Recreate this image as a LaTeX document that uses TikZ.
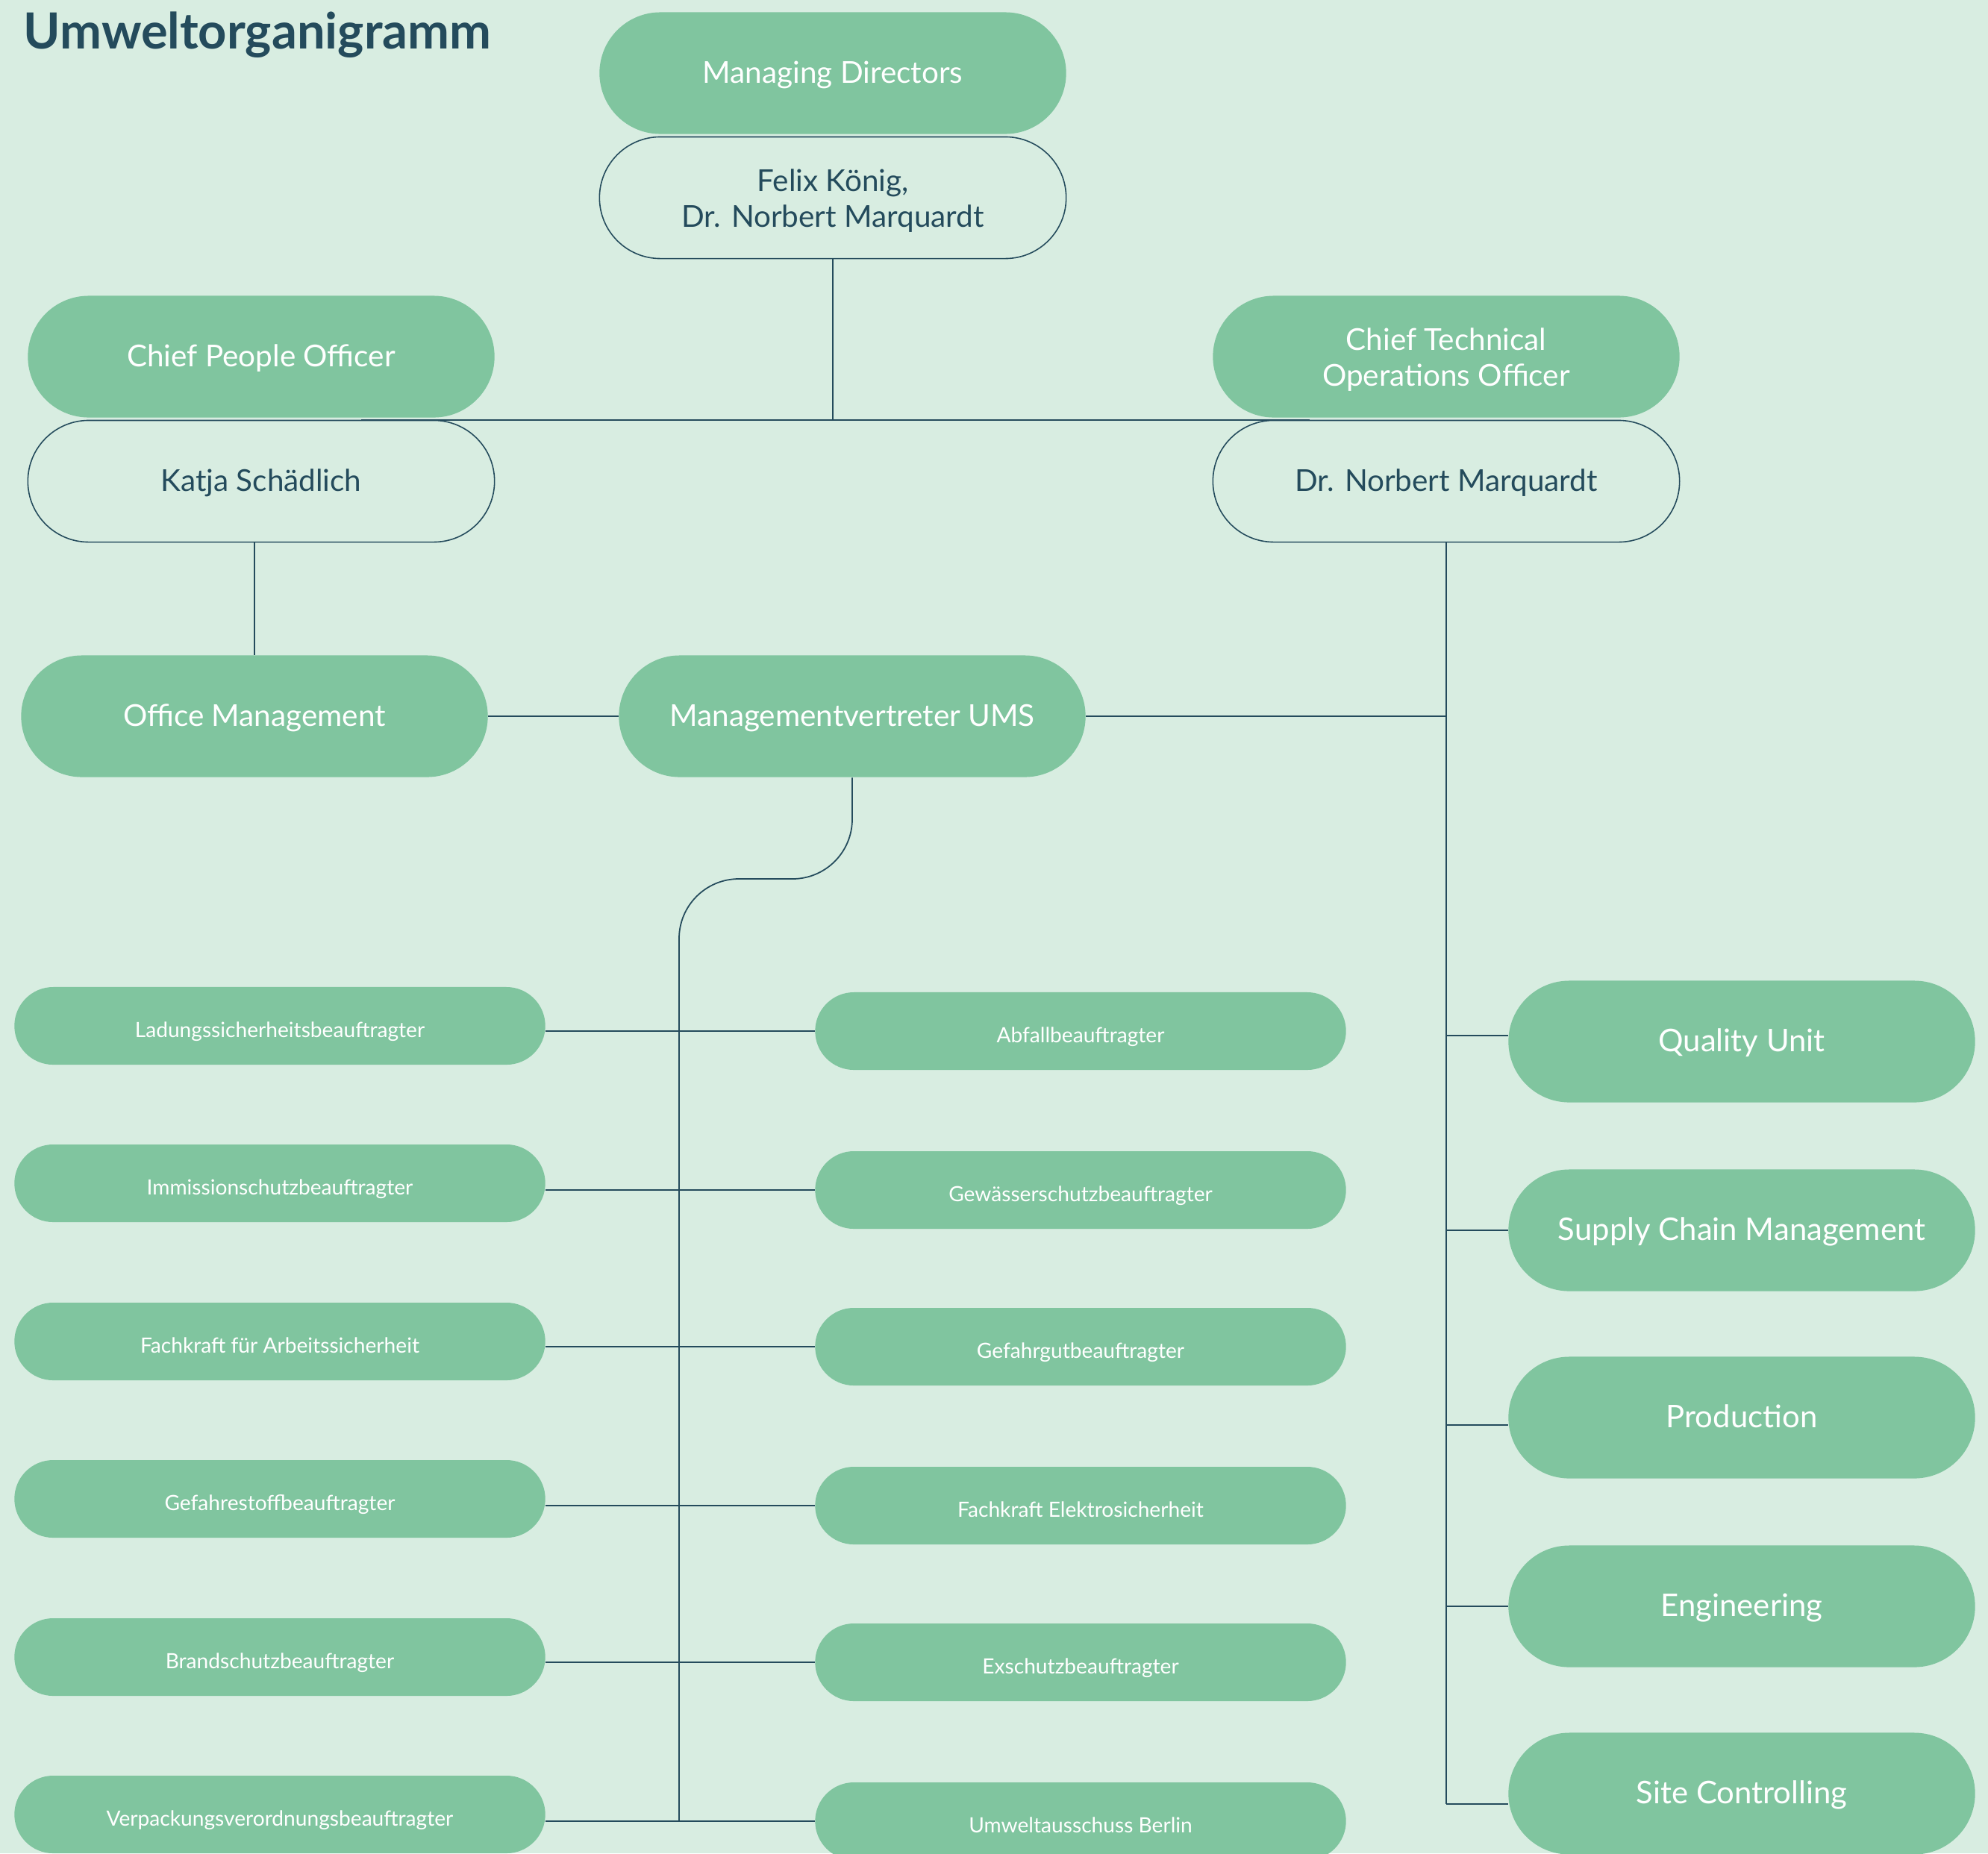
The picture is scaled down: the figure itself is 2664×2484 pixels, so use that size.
\documentclass[tikz,border=0pt]{standalone}
\usepackage{fontspec}
\setmainfont{Lato}
\usetikzlibrary{calc}
\definecolor{bg}{HTML}{D8EDE1}
\definecolor{leaf}{HTML}{80C59F}
\definecolor{ink}{HTML}{244B5C}

\begin{document}
\begin{tikzpicture}[x=0.01cm, y=-0.01cm,
    big/.style={rectangle, rounded corners=0.815cm, minimum width=6.25cm, minimum height=1.63cm, inner sep=0pt, align=center, text height=1em, text depth=0.25em, font=\fontsize{11.5}{13.6}\selectfont},
    twoline/.style={text height=24.7pt, text depth=2.4pt},
    head/.style={big, fill=leaf, text=white},
    holder/.style={big, draw=ink, line width=0.45pt, fill=bg, text=ink},
    unit/.style={head, font=\fontsize{11.9}{14}\selectfont},
    duty/.style={rectangle, rounded corners=0.52cm, minimum width=7.11cm, minimum height=1.04cm, inner sep=0pt, fill=leaf, text=white, text height=1.1em, text depth=0.2em, font=\fontsize{8}{10}\selectfont},
    link/.style={draw=ink, line width=0.5pt}]
                    \fill[bg] (0,0) rectangle (2664,2484);
                    \useasboundingbox (0,0) rectangle (2664,2484);
                    \node[anchor=base west, inner sep=0pt, text=ink, font=\fontsize{19}{22}\selectfont\bfseries] (title) at (31,65) {Umweltorganigramm};
                    \node[head] (MD) at (1116,98) {Managing Directors};
                    \node[holder, twoline] (FK) at (1116,265) {Felix König,\\Dr. Norbert Marquardt};
                    \node[head] (CPO) at (350,478) {Chief People Officer};
                    \node[holder] (KS) at (350,645) {Katja Schädlich};
                    \node[head, twoline] (CTO) at (1938,478) {Chief Technical\\Operations Officer};
                    \node[holder] (NM) at (1938,645) {Dr. Norbert Marquardt};
                    \draw[link] (FK.south) -- (FK.south |- KS.north);
                    \draw[link] ([xshift=1.34cm]KS.north) -- ([xshift=-1.83cm]NM.north);
                    \node[head] (OM) at (341,960) {Office Management};
                    \node[head] (UMS) at (1142,960) {Managementvertreter UMS};
                    \draw[link] (OM.north) -- (OM.north |- KS.south);
                    \draw[link] (OM.east) -- (UMS.west);
                    \draw[link] (UMS.east) -- (UMS.east -| NM.south);
                    % Beauftragte
                    \node[duty] (L1) at (375,1375) {Ladungssicherheitsbeauftragter};
                    \node[duty] (L2) at (375,1586) {Immissionschutzbeauftragter};
                    \node[duty] (L3) at (375,1798) {Fachkraft für Arbeitssicherheit};
                    \node[duty] (L4) at (375,2009) {Gefahrestoffbeauftragter};
                    \node[duty] (L5) at (375,2221) {Brandschutzbeauftragter};
                    \node[duty] (L6) at (375,2432) {Verpackungsverordnungsbeauftragter};
                    \node[duty] (R1) at (1448,1382) {Abfallbeauftragter};
                    \node[duty] (R2) at (1448,1595) {Gewässerschutzbeauftragter};
                    \node[duty] (R3) at (1448,1805) {Gefahrgutbeauftragter};
                    \node[duty] (R4) at (1448,2018) {Fachkraft Elektrosicherheit};
                    \node[duty] (R5) at (1448,2228) {Exschutzbeauftragter};
                    \node[duty] (R6) at (1448,2441) {Umweltausschuss Berlin};
                    \coordinate (bend) at (910,1178);
                    \draw[link, rounded corners=0.8cm] (UMS.south) |- (bend) -- (bend |- R6.west);
                    \draw[link] (R1.west -| L1.east) -- (R1.west);
                    \draw[link] (R2.west -| L2.east) -- (R2.west);
                    \draw[link] (R3.west -| L3.east) -- (R3.west);
                    \draw[link] (R4.west -| L4.east) -- (R4.west);
                    \draw[link] (R5.west -| L5.east) -- (R5.west);
                    \draw[link] (R6.west -| L6.east) -- (R6.west);
                    % Bereiche
                    \node[unit] (QU) at (2334,1396) {Quality Unit};
                    \node[unit] (SCM) at (2334,1649) {Supply Chain Management};
                    \node[unit] (PR) at (2334,1900) {Production};
                    \node[unit] (EN) at (2334,2153) {Engineering};
                    \node[unit] (SC) at (2334,2404) {Site Controlling};
                    \coordinate (qu in) at ([yshift=0.08cm]QU.west);
                    \coordinate (pr in) at ([yshift=-0.1cm]PR.west);
                    \coordinate (sc in) at ([yshift=-0.14cm]SC.west);
                    \draw[link] (NM.south) -- (NM.south |- sc in);
                    \draw[link] (NM.south |- qu in) -- (qu in);
                    \draw[link] (NM.south |- SCM.west) -- (SCM.west);
                    \draw[link] (NM.south |- pr in) -- (pr in);
                    \draw[link] (NM.south |- EN.west) -- (EN.west);
                    \draw[link] (NM.south |- sc in) -- (sc in);
\end{tikzpicture}
\end{document}
